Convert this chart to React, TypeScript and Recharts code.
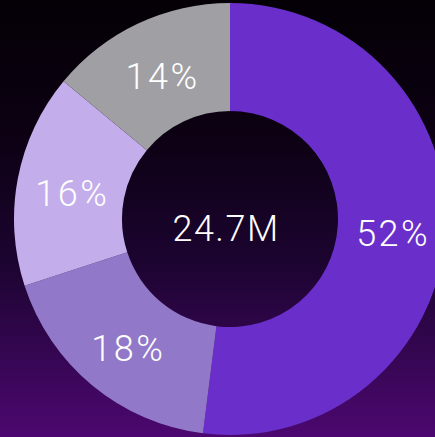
import React from 'react';
import { PieChart, Pie, Cell } from 'recharts';

const categories = ['A', 'B', 'C', 'D'];
const values = [52, 18, 16, 14];
const labels = ['52%', '18%', '16%', '14%'];
const colors = ['#6a2fcb', '#9178c8', '#c3adeb', '#a09fa4'];
const centerLabel = '24.7M';

const data = categories.map((name, i) => ({ name, value: values[i], label: labels[i] }));

const RADIAN = Math.PI / 180;
const FONT = 'Roboto, sans-serif';

const renderLabel = (props: any) => {
  const { cx, cy, midAngle, innerRadius, outerRadius, index } = props;
  const r = (innerRadius + outerRadius) / 2;
  const x = cx + r * Math.cos(-midAngle * RADIAN);
  const y = cy + r * Math.sin(-midAngle * RADIAN);
  return (
    <text
      x={x + 1.5}
      y={y + 17}
      fill="#ffffff"
      textAnchor="middle"
      fontFamily={FONT}
      fontWeight={300}
      fontSize={36}
      letterSpacing={2.5}
    >
      {labels[index]}
    </text>
  );
};

export default function App() {
  return (
    <div
      style={{
        position: 'absolute',
        left: 0,
        top: 0,
        width: 435,
        height: 437,
        background: 'linear-gradient(to bottom, #040006 0%, #0c0112 30%, #1c0430 60%, #4c0870 100%)',
        overflow: 'hidden',
      }}
    >
      <PieChart width={435} height={437} margin={{ top: 0, right: 0, bottom: 0, left: 0 }}>
        <Pie
          data={data}
          dataKey="value"
          nameKey="name"
          cx={230}
          cy={219}
          innerRadius={108}
          outerRadius={216}
          startAngle={90}
          endAngle={-270}
          stroke="none"
          label={renderLabel}
          labelLine={false}
          isAnimationActive={false}
        >
          {data.map((d, i) => (
            <Cell key={d.name} fill={colors[i]} />
          ))}
        </Pie>
        <text
          x={226}
          y={240.5}
          fill="#ffffff"
          textAnchor="middle"
          fontFamily={FONT}
          fontWeight={300}
          fontSize={36}
          letterSpacing={1.5}
        >
          {centerLabel}
        </text>
      </PieChart>
    </div>
  );
}
